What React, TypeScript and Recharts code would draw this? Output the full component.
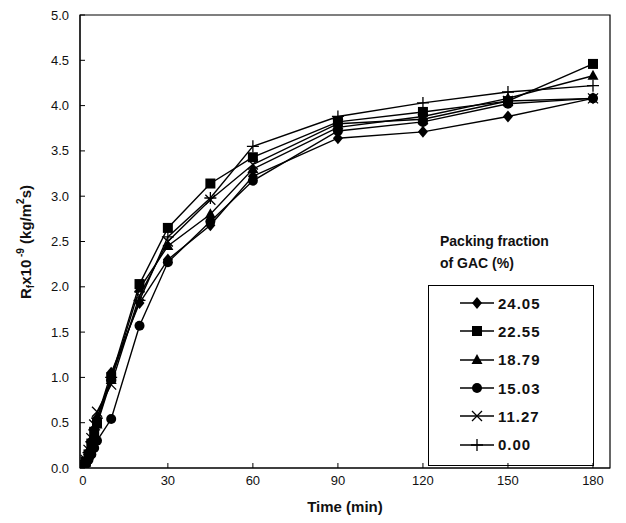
import React from 'react';
import {
    LineChart,
    Line,
    XAxis,
    YAxis,
    Legend,
    Label,
    ReferenceArea,
} from 'recharts';

const FONT = '"Liberation Sans", Arial, sans-serif';

const times = [0, 1, 2, 3, 4, 5, 10, 20, 30, 45, 60, 90, 120, 150, 180];

const gac2405 = [0.02, 0.08, 0.18, 0.3, 0.42, 0.55, 1.05, 1.82, 2.3, 2.68, 3.22, 3.64, 3.71, 3.88, 4.08];
const gac2255 = [0.02, 0.07, 0.15, 0.27, 0.4, 0.5, 1.0, 2.03, 2.65, 3.14, 3.43, 3.82, 3.93, 4.05, 4.46];
const gac1879 = [0.02, 0.06, 0.14, 0.25, 0.37, 0.48, 0.97, 1.98, 2.45, 2.8, 3.3, 3.76, 3.88, 4.08, 4.33];
const gac1503 = [0.01, 0.04, 0.09, 0.15, 0.22, 0.3, 0.54, 1.57, 2.27, 2.72, 3.17, 3.72, 3.82, 4.02, 4.08];
const gac1127 = [0.02, 0.09, 0.2, 0.33, 0.48, 0.62, 0.92, 1.9, 2.5, 2.96, 3.35, 3.8, 3.85, 4.05, 4.08];
const gac0000 = [0.02, 0.08, 0.17, 0.29, 0.42, 0.55, 1.0, 1.85, 2.55, 2.98, 3.55, 3.88, 4.03, 4.15, 4.22];

const seriesNames = ['24.05', '22.55', '18.79', '15.03', '11.27', '0.00'];
const seriesKeys = ['s2405', 's2255', 's1879', 's1503', 's1127', 's0000'];
const seriesShapes = ['diamond', 'square', 'triangle', 'circle', 'cross', 'plus'];
const seriesValues = [gac2405, gac2255, gac1879, gac1503, gac1127, gac0000];

const xTicks = [0, 30, 60, 90, 120, 150, 180];
const yTicks = [0, 0.5, 1, 1.5, 2, 2.5, 3, 3.5, 4, 4.5, 5];

const data = times.map((t, i) => {
    const row: Record<string, number> = { time: t };
    seriesKeys.forEach((k, j) => {
        row[k] = seriesValues[j][i];
    });
    return row;
});

const Marker = ({ shape, cx, cy }: { shape: string; cx: number; cy: number }) => {
    switch (shape) {
        case 'diamond':
            return <polygon points={`${cx},${cy - 6} ${cx + 5},${cy} ${cx},${cy + 6} ${cx - 5},${cy}`} fill="#000" />;
        case 'square':
            return <rect x={cx - 5} y={cy - 5} width={10} height={10} fill="#000" />;
        case 'triangle':
            return <polygon points={`${cx},${cy - 6} ${cx + 5.5},${cy + 4} ${cx - 5.5},${cy + 4}`} fill="#000" />;
        case 'circle':
            return <circle cx={cx} cy={cy} r={5} fill="#000" />;
        case 'cross':
            return (
                <path d={`M${cx - 5},${cy - 5}L${cx + 5},${cy + 5}M${cx - 5},${cy + 5}L${cx + 5},${cy - 5}`} stroke="#000" strokeWidth={1.3} />
            );
        default:
            return <path d={`M${cx - 6},${cy}L${cx + 6},${cy}M${cx},${cy - 6}L${cx},${cy + 6}`} stroke="#000" strokeWidth={1.3} />;
    }
};

const makeDot = (shape: string) => (props: any) => {
    const { cx, cy, index } = props;
    if (cx == null || cy == null) return <g key={`d-${index}`} />;
    return (
        <g key={`d-${index}`}>
            <Marker shape={shape} cx={cx} cy={cy} />
        </g>
    );
};

const XTick = ({ x, y, payload }: any) => (
    <g>
        <line x1={x} x2={x} y1={y} y2={y - 5} stroke="#000" />
        <text x={x} y={y + 17} textAnchor="middle" fontSize={13} fontFamily={FONT} fill="#111">
            {payload.value}
        </text>
    </g>
);

const YTick = ({ x, y, payload }: any) => (
    <g>
        <line x1={x} x2={x + 5} y1={y} y2={y} stroke="#000" />
        <text x={x - 11} y={y + 4.5} textAnchor="end" fontSize={13} fontFamily={FONT} fill="#111">
            {Number(payload.value).toFixed(1)}
        </text>
    </g>
);

const YTitle = () => (
    <text
        x={0}
        y={0}
        transform="translate(31,242) rotate(-90)"
        textAnchor="middle"
        fontSize={15}
        fontWeight="bold"
        fontFamily={FONT}
        fill="#111"
    >
        R
        <tspan fontSize={10} dy={3}>f</tspan>
        <tspan dy={-3}>x10</tspan>
        <tspan fontSize={10} dy={-7}> -9</tspan>
        <tspan dy={7}> (kg/m</tspan>
        <tspan fontSize={10} dy={-7}>2</tspan>
        <tspan dy={7}>s)</tspan>
    </text>
);

const LegendBox = () => (
    <div style={{ fontFamily: FONT, color: '#111' }}>
        <div style={{ fontWeight: 'bold', fontSize: 14, lineHeight: '22px', paddingLeft: 12, marginBottom: 11 }}>
            Packing fraction
            <br />
            of GAC (%)
        </div>
        <div style={{ border: '1px solid #000', width: 166, height: 181, boxSizing: 'border-box', paddingTop: 3 }}>
            {seriesNames.map((name, i) => (
                <div key={name} style={{ display: 'flex', alignItems: 'center', height: 28.3, paddingLeft: 30 }}>
                    <svg width={36} height={16} style={{ marginRight: 3 }}>
                        <line x1={1} x2={35} y1={8} y2={8} stroke="#000" strokeWidth={1.3} />
                        <Marker shape={seriesShapes[i]} cx={18} cy={8} />
                    </svg>
                    <span style={{ fontWeight: 'bold', fontSize: 15, letterSpacing: 1 }}>{name}</span>
                </div>
            ))}
        </div>
    </div>
);

export default function App() {
    return (
        <div style={{ position: 'absolute', left: 0, top: 0, background: '#fff' }}>
            <LineChart width={626} height={523} data={data} margin={{ top: 15, right: 16, bottom: 25, left: 20 }}>
                <XAxis
                    dataKey="time"
                    type="number"
                    domain={[-1, 186]}
                    ticks={xTicks}
                    allowDataOverflow
                    tickSize={0}
                    tickMargin={0}
                    tick={<XTick />}
                    axisLine={{ stroke: '#000' }}
                    height={30}
                >
                    <Label
                        value="Time (min)"
                        position="bottom"
                        offset={3}
                        style={{ fontSize: 15, fontWeight: 'bold', fontFamily: FONT, fill: '#111' }}
                    />
                </XAxis>
                <YAxis
                    type="number"
                    domain={[0, 5]}
                    ticks={yTicks}
                    allowDataOverflow
                    width={60}
                    tickSize={0}
                    tickMargin={0}
                    tick={<YTick />}
                    axisLine={{ stroke: '#000' }}
                    label={<YTitle />}
                />
                <ReferenceArea x1={-1} x2={186} y1={0} y2={5} fill="none" stroke="#000" strokeWidth={1.2} ifOverflow="visible" />
                {seriesKeys.map((k, i) => (
                    <Line
                        key={k}
                        dataKey={k}
                        name={seriesNames[i]}
                        stroke="#000"
                        strokeWidth={1.4}
                        dot={makeDot(seriesShapes[i])}
                        isAnimationActive={false}
                    />
                ))}
                <Legend
                    layout="horizontal"
                    verticalAlign="middle"
                    align="center"
                    content={<LegendBox />}
                    wrapperStyle={{ left: 428, top: 230, width: 170, height: 240 }}
                />
            </LineChart>
        </div>
    );
}
